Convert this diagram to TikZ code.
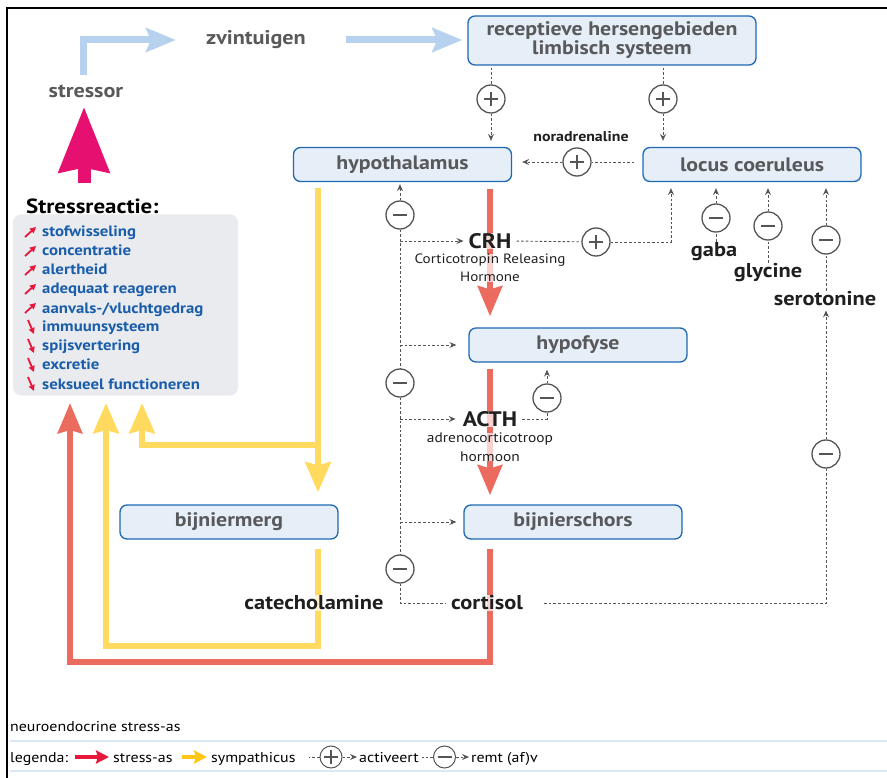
\documentclass[tikz,border=0pt]{standalone}
\usepackage{fontspec}
\setmainfont[FakeStretch=1.12]{PT Sans}
\usetikzlibrary{arrows.meta,calc,positioning}

\definecolor{boxvul}{HTML}{E6EEF8}
\definecolor{boxrand}{HTML}{1F68B3}
\definecolor{grijstekst}{HTML}{58595B}
\definecolor{hemel}{HTML}{B7D2EE}
\definecolor{roze}{HTML}{E5106F}
\definecolor{zalm}{HTML}{EC6B5F}
\definecolor{zon}{HTML}{FFDA5E}
\definecolor{stipgrijs}{HTML}{555555}
\definecolor{lijstblauw}{HTML}{1A5DAB}
\definecolor{paneelgrijs}{HTML}{E9EBEE}
\definecolor{legrood}{HTML}{E8173C}
\definecolor{leggeel}{HTML}{FFC614}
\definecolor{regelblauw}{HTML}{DCE7F6}

\begin{document}
\begin{tikzpicture}[x=1pt,y=-1pt,
  orgaan/.style={draw=boxrand, fill=boxvul, line width=1.3pt, rounded corners=7pt,
    minimum width=218pt, minimum height=34pt, inner sep=0pt, text=grijstekst,
    font=\fontsize{19.5}{19}\selectfont\bfseries},
  teken/.style={circle, draw=stipgrijs, fill=white, line width=1.3pt, minimum size=28pt, inner sep=0pt},
  plusteken/.style={teken, path picture={\draw[stipgrijs, line width=2.6pt]
    ([xshift=-7pt]path picture bounding box.center) -- ([xshift=7pt]path picture bounding box.center)
    ([yshift=-7pt]path picture bounding box.center) -- ([yshift=7pt]path picture bounding box.center);}},
  minteken/.style={teken, path picture={\draw[stipgrijs, line width=2.6pt]
    ([xshift=-7pt]path picture bounding box.center) -- ([xshift=7pt]path picture bounding box.center);}},
  legplus/.style={plusteken, minimum size=22pt, line width=1pt},
  legmin/.style={minteken, minimum size=22pt, line width=1pt},
  stip/.style={draw=stipgrijs, line width=0.9pt, dash pattern=on 2.6pt off 2pt},
  stippijl/.style={stip, -{Stealth[length=7pt, width=6pt, inset=2.5pt]}},
  as/.style={draw=zalm, line width=6.5pt, line join=miter, -{Stealth[length=30pt, width=24pt, inset=3pt]}},
  symp/.style={draw=zon, line width=6.5pt, line join=miter, -{Stealth[length=30pt, width=25pt, inset=3pt]}},
  zin/.style={draw=hemel, line width=7pt, line join=miter, -{Stealth[length=30pt, width=24pt, inset=5pt]}},
  klein/.style={draw=legrood, line width=1.8pt, -{Triangle[length=6pt, width=6pt]}},
  grijs/.style={text=grijstekst, inner sep=0pt, font=\fontsize{19.8}{19}\selectfont\bfseries},
  stof/.style={text=black!88, inner sep=1pt, font=\fontsize{20}{20}\selectfont\bfseries},
  hormoon/.style={text=black!88, inner sep=0pt, fill=white, fill opacity=0.7, text opacity=1},
  punt/.style={anchor=base west, inner sep=0pt, text=lijstblauw, font=\fontsize{15}{15}\selectfont\bfseries},
  leg/.style={anchor=base west, inner sep=0pt, font=\fontsize{14.2}{14}\selectfont},
  regel/.style={draw=regelblauw, line width=2pt}]

  \useasboundingbox (0,0) rectangle (887,778);
  %% kader links en boven
  \draw[line width=2.5pt] (7,778) -- (7,8) -- (887,8);

  %% organen
  \node[orgaan, minimum width=288pt, minimum height=49pt, align=center] (receptief) at (612,40.5)
    {receptieve hersengebieden\\limbisch systeem};
  \node[orgaan] (hypothalamus) at (402.5,164.5) {hypothalamus};
  \node[orgaan] (locus) at (752,164.5) {locus coeruleus};
  \node[orgaan] (hypofyse) at (578,345) {hypofyse};
  \node[orgaan] (merg) at (229,522) {bijniermerg};
  \node[orgaan] (schors) at (573,522) {bijnierschors};

  %% stressor en zintuigen
  \node[grijs] (zvintuigen) at (256,40) {zvintuigen};
  \node[grijs] (stressor) at (86,91) {stressor};
  \coordinate (hoek) at (83,40);
  \coordinate (bron) at (84,183);
  \draw[zin, shorten <=9pt] (stressor.north -| hoek) -- (hoek) -- ([xshift=-30pt]zvintuigen.west);
  \draw[zin, shorten <=40pt, shorten >=5pt] (zvintuigen.east) -- (receptief.west |- zvintuigen.east);
  \draw[roze, line width=13pt, -{Stealth[length=65pt, width=49pt, inset=4pt]}, shorten >=9pt]
    (bron) -- (stressor.south -| bron);

  %% stressreactie
  \node[anchor=base west, inner sep=0pt, font=\fontsize{20.5}{20}\selectfont\bfseries] (reactietitel) at (26,214) {Stressreactie:};
  \node[fill=paneelgrijs, rounded corners=8pt, minimum width=225pt, minimum height=181pt, inner sep=0pt] (reactie) at (125.5,305) {};
  \node[punt] (stof) at (42,237) {stofwisseling};
  \node[punt] (conc) at (42,256) {concentratie};
  \node[punt] (alert) at (42,275) {alertheid};
  \node[punt] (adeq) at (42,294) {adequaat reageren};
  \node[punt] (aanval) at (42,313) {aanvals-/vluchtgedrag};
  \node[punt] (immuun) at (42,332) {immuunsysteem};
  \node[punt] (spijs) at (42,351) {spijsvertering};
  \node[punt] (excr) at (42,370) {excretie};
  \node[punt] (seks) at (42,389) {seksueel functioneren};
  \draw[klein] ([shift={(-17,0)}]stof.base west) -- ++(11,-10);
  \draw[klein] ([shift={(-17,0)}]conc.base west) -- ++(11,-10);
  \draw[klein] ([shift={(-17,0)}]alert.base west) -- ++(11,-10);
  \draw[klein] ([shift={(-17,0)}]adeq.base west) -- ++(11,-10);
  \draw[klein] ([shift={(-17,0)}]aanval.base west) -- ++(11,-10);
  \draw[klein] ([shift={(-14,-12)}]immuun.base west) -- ++(6,14);
  \draw[klein] ([shift={(-14,-12)}]spijs.base west) -- ++(6,14);
  \draw[klein] ([shift={(-14,-12)}]excr.base west) -- ++(6,14);
  \draw[klein] ([shift={(-14,-12)}]seks.base west) -- ++(6,14);

  %% sympathicus (geel) en stress-as (rood)
  \coordinate (gl) at (318,0);
  \coordinate (rl) at (490,0);
  \coordinate (gtak) at (318,445);
  \draw[symp, shorten <=6pt, shorten >=12pt] (hypothalamus.south -| gl) -- (merg.north -| gl);
  \draw[symp, shorten >=7pt] (gtak) -- (142,445) -- (142,396);
  \draw[symp, shorten <=9pt, shorten >=7pt] (merg.south -| gl) -- (318,646) -- (106,646) -- (106,396);
  \draw[as, shorten <=7pt, shorten >=11pt] (hypothalamus.south -| rl) -- (hypofyse.north -| rl);
  \draw[as, shorten <=6pt, shorten >=9pt] (hypofyse.south -| rl) -- (schors.north -| rl);
  \draw[as, shorten <=9pt, shorten >=7pt] (schors.south -| rl) -- (490,662) -- (70,662) -- (70,396);

  %% hormonen en stoffen
  \node[hormoon, font=\fontsize{21}{21}\selectfont\bfseries] (crh) at (490,241) {CRH};
  \node[hormoon, font=\fontsize{13.5}{18.5}\selectfont, align=center] (crhuit) at (490,268)
    {Corticotropin Releasing\\Hormone};
  \node[hormoon, font=\fontsize{21}{21}\selectfont\bfseries] (acth) at (490,419) {ACTH};
  \node[hormoon, font=\fontsize{13.8}{18.5}\selectfont, align=center] (acthuit) at (490,447)
    {adrenocorticotroop\\hormoon};
  \node[stof, fill=white, fill opacity=0.7, text opacity=1] (catecholamine) at (314,603) {catecholamine};
  \node[stof, fill=white, fill opacity=0.7, text opacity=1] (cortisol) at (487,603) {cortisol};
  \node[stof, font=\fontsize{14.2}{14}\selectfont\bfseries] (noradrenaline) at (581,137) {noradrenaline};
  \node[stof] (gaba) at (714,252) {gaba};
  \node[stof] (glycine) at (768,273) {glycine};
  \node[stof] (serotonine) at (825,299) {serotonine};

  %% activeren
  \node[plusteken] (plrec) at (491,99) {};
  \node[plusteken] (plloc) at (663,99) {};
  \node[plusteken] (plnor) at (577,162) {};
  \node[plusteken] (plcrh) at (596,242) {};
  \draw[stip, shorten <=2pt] (receptief.south -| plrec) -- (plrec);
  \draw[stippijl, shorten >=6pt] (plrec) -- (plrec |- hypothalamus.north);
  \draw[stip, shorten <=2pt] (receptief.south -| plloc) -- (plloc);
  \draw[stippijl, shorten >=6pt] (plloc) -- (plloc |- locus.north);
  \draw[stip, shorten <=8pt] (locus.west |- plnor) -- (plnor);
  \draw[stippijl, shorten >=10pt] (plnor) -- (hypothalamus.east |- plnor);
  \coordinate (knikcrh) at (671,242);
  \draw[stip, shorten <=5pt] (crh.east) -- (plcrh);
  \draw[stippijl, shorten >=6pt] (plcrh) -- (knikcrh) -- (knikcrh |- locus.south);

  %% remmen
  \node[minteken] (mhyp) at (400,215) {};
  \node[minteken] (mmid) at (400,383) {};
  \node[minteken] (mlaag) at (400,569) {};
  \node[minteken] (macth) at (547,398) {};
  \node[minteken] (mgaba) at (716,218) {};
  \node[minteken] (mgly) at (768,226) {};
  \node[minteken] (mser) at (826,240) {};
  \node[minteken] (mcort) at (826,454) {};
  \draw[stippijl, shorten >=2pt] (mhyp) -- (mhyp |- hypothalamus.south);
  \draw[stip] (mhyp) -- (mmid);
  \draw[stip] (mmid) -- (mlaag);
  \draw[stip, shorten >=4pt] (mlaag) -- (mlaag |- cortisol) -- (cortisol.west);
  \draw[stippijl, shorten >=5pt] (mhyp |- crh) -- (crh.west);
  \draw[stippijl, shorten >=12pt] (mhyp |- hypofyse) -- (hypofyse.west);
  \draw[stippijl, shorten >=7pt] (mhyp |- acth) -- (acth.west);
  \draw[stippijl, shorten >=7pt] (mhyp |- schors) -- (schors.west);
  \draw[stip, shorten <=5pt] (acth.east) -- (acth.east -| macth) -- (macth);
  \draw[stippijl, shorten >=7pt] (macth) -- (macth |- hypofyse.south);
  \draw[stip] (gaba.north -| mgaba) -- (mgaba);
  \draw[stippijl, shorten >=6pt] (mgaba) -- (mgaba |- locus.south);
  \draw[stip] (glycine.north) -- (mgly);
  \draw[stippijl, shorten >=6pt] (mgly) -- (mgly |- locus.south);
  \draw[stip] (serotonine.north -| mser) -- (mser);
  \draw[stippijl, shorten >=6pt] (mser) -- (mser |- locus.south);
  \draw[stip, shorten <=20pt] (cortisol.east) -- (cortisol.east -| mcort) -- (mcort);
  \draw[stippijl, shorten >=3pt] (mcort) -- (mcort |- serotonine.south);

  %% legenda
  \node[leg] (neuro) at (10,731) {neuroendocrine stress-as};
  \draw[regel] (10,741) -- (887,741);
  \draw[regel] (10,771) -- (887,771);
  \node[leg] (legenda) at (10,762) {legenda:};
  \node[leg] (legstress) at (113,762) {stress-as};
  \node[leg] (legsymp) at (211,762) {sympathicus};
  \node[leg] (legact) at (359,762) {activeert};
  \node[leg] (legremt) at (471,762) {remt (af)v};
  \draw[draw=legrood, line width=4pt, -{Stealth[length=13pt, width=13pt, inset=2pt]}]
    ([xshift=7pt]legenda.east |- 0,757) -- ([xshift=-4pt]legstress.west |- 0,757);
  \draw[draw=leggeel, line width=4pt, -{Stealth[length=13pt, width=13pt, inset=2pt]}]
    ([xshift=9pt]legstress.east |- 0,757) -- ([xshift=-4pt]legsymp.west |- 0,757);
  \node[legplus] (lplus) at (331,757) {};
  \node[legmin] (lmin) at (444.5,757) {};
  \draw[stip, line width=0.7pt] (lplus.west) -- ++(-11,0);
  \draw[stippijl, line width=0.7pt, shorten >=2pt] (lplus.east) -- (legact.west |- lplus);
  \draw[stip, line width=0.7pt] (lmin.west) -- ++(-11,0);
  \draw[stippijl, line width=0.7pt, shorten >=2pt] (lmin.east) -- (legremt.west |- lmin);
\end{tikzpicture}
\end{document}
